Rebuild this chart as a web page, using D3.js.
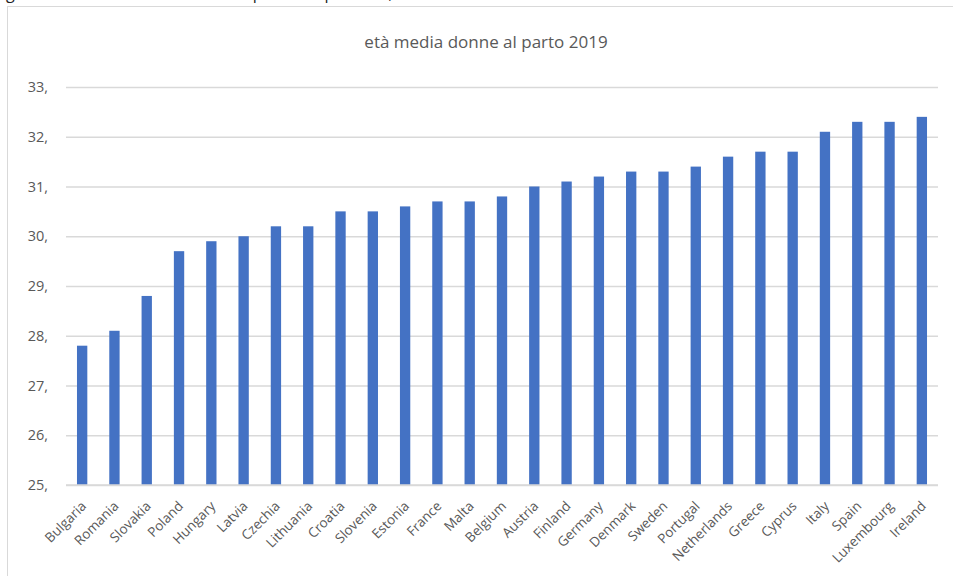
<!DOCTYPE html>
<html>
<head>
<meta charset="utf-8">
<script src="https://cdn.jsdelivr.net/npm/d3@7"></script>
<style>
  html, body { margin: 0; padding: 0; background: #fff; }
  svg { display: block; }
</style>
</head>
<body>
<svg id="chart" width="953" height="576"></svg>
<script>
const countries = ["Bulgaria","Romania","Slovakia","Poland","Hungary","Latvia","Czechia","Lithuania","Croatia","Slovenia","Estonia","France","Malta","Belgium","Austria","Finland","Germany","Denmark","Sweden","Portugal","Netherlands","Greece","Cyprus","Italy","Spain","Luxembourg","Ireland"];
const ages = [27.8,28.1,28.8,29.7,29.9,30.0,30.2,30.2,30.5,30.5,30.6,30.7,30.7,30.8,31.0,31.1,31.2,31.3,31.3,31.4,31.6,31.7,31.7,32.1,32.3,32.3,32.4];
const yTicks = [25,26,27,28,29,30,31,32,33];
const chartTitle = "età media donne al parto 2019";
const captionText = "grafico: età media delle donne al parto nei paesi UE, 2019";

const svg = d3.select("#chart");
const font = "'Open Sans', 'Liberation Sans', sans-serif";
const textColor = "#595959";

// caption line above the chart box, its upper part runs off the page
svg.append("text")
  .attr("x", 6).attr("y", -1)
  .attr("font-family", font).attr("font-size", 16)
  .attr("fill", "#222")
  .text(captionText);

// chart box
svg.append("rect")
  .attr("x", 7.5).attr("y", 6.5)
  .attr("width", 960).attr("height", 600)
  .attr("fill", "#fff").attr("stroke", "#d9d9d9");

const x = d3.scaleBand().domain(countries).range([66, 938]).paddingInner(0.68).paddingOuter(0.34);
const y = d3.scaleLinear().domain([25, 33]).range([485, 87]);

// title
svg.append("text")
  .attr("x", 486).attr("y", 48)
  .attr("text-anchor", "middle")
  .attr("font-family", font).attr("font-size", 17)
  .attr("fill", textColor)
  .text(chartTitle);

// value axis with gridlines
const yAxis = d3.axisLeft(y).tickValues(yTicks)
  .tickSize(-(938 - 66)).tickPadding(18)
  .tickFormat(d => d + ",");
const gy = svg.append("g").attr("transform", "translate(66,0)").call(yAxis);
gy.select(".domain").remove();
gy.selectAll(".tick line").attr("stroke", "#d9d9d9").attr("stroke-width", 1.5);
gy.selectAll(".tick text")
  .attr("font-family", font).attr("font-size", 14.5)
  .attr("fill", textColor);

// bars
svg.append("g").selectAll("rect")
  .data(countries.map((c, i) => ({ c, v: ages[i] })))
  .join("rect")
  .attr("x", d => x(d.c))
  .attr("width", x.bandwidth())
  .attr("y", d => y(d.v))
  .attr("height", d => y(25) - y(d.v))
  .attr("fill", "#4472c4");

// baseline
svg.append("line")
  .attr("x1", 66).attr("x2", 938)
  .attr("y1", y(25)).attr("y2", y(25))
  .attr("stroke", "#d9d9d9").attr("stroke-width", 1.5);

// category labels
const xAxis = d3.axisBottom(x).tickSize(0).tickPadding(0);
const gx = svg.append("g").attr("transform", `translate(0,${y(25)})`).call(xAxis);
gx.select(".domain").remove();
gx.selectAll(".tick text")
  .attr("font-family", font).attr("font-size", 13.5)
  .attr("fill", textColor)
  .attr("text-anchor", "end")
  .attr("dy", 0)
  .attr("transform", "translate(5,22) rotate(-45)");
</script>
</body>
</html>
